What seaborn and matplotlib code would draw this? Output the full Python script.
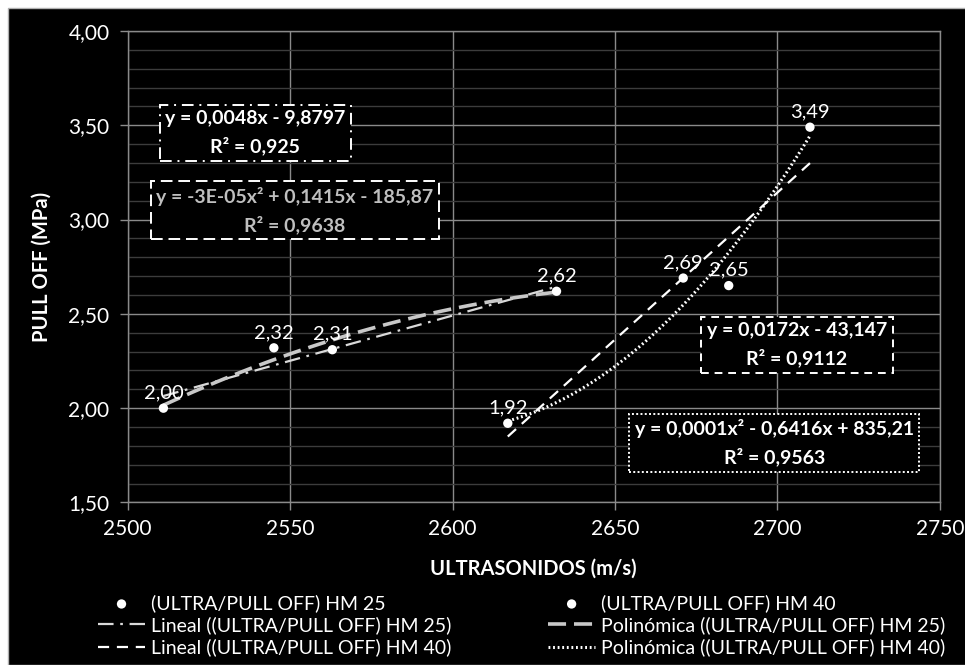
import numpy as np
import pandas as pd
import seaborn as sns
from matplotlib import pyplot as plt
from matplotlib.patches import Rectangle
from matplotlib.ticker import FuncFormatter, MultipleLocator

# (ULTRA/PULL OFF) HM 25
hm25_ultra = [2511, 2545, 2563, 2632]
hm25_pull = [2.00, 2.32, 2.31, 2.62]
# (ULTRA/PULL OFF) HM 40
hm40_ultra = [2617, 2671, 2685, 2710]
hm40_pull = [1.92, 2.69, 2.65, 3.49]

eq_lin25 = "y = 0,0048x - 9,8797\nR² = 0,925"
eq_poly25 = "y = -3E-05x² + 0,1415x - 185,87\nR² = 0,9638"
eq_lin40 = "y = 0,0172x - 43,147\nR² = 0,9112"
eq_poly40 = "y = 0,0001x² - 0,6416x + 835,21\nR² = 0,9563"

df25 = pd.DataFrame({"ultra": hm25_ultra, "pull": hm25_pull})
df40 = pd.DataFrame({"ultra": hm40_ultra, "pull": hm40_pull})

sns.set_style("dark")
plt.rcParams["font.family"] = ["Lato", "DejaVu Sans"]
plt.rcParams["text.color"] = "white"
plt.rcParams["axes.labelcolor"] = "white"
plt.rcParams["xtick.color"] = "#8c8c8c"
plt.rcParams["ytick.color"] = "#8c8c8c"
plt.rcParams["xtick.labelcolor"] = "white"
plt.rcParams["ytick.labelcolor"] = "white"

fig = plt.figure(figsize=(9.65, 6.65), dpi=100, facecolor="white")
fig.patches.append(Rectangle((8 / 965, 0), 1, 1 - 8 / 665, transform=fig.transFigure,
                             facecolor="black", edgecolor="#b0b0b0", lw=1, zorder=-5))
ax = fig.add_axes([0.1323, 0.2444, 0.8417, 0.7090])
ax.set_facecolor("black")

grey = "#d9d9d9"
sns.regplot(data=df25, x="ultra", y="pull", order=1, ci=None, scatter=False, ax=ax,
            label="Lineal ((ULTRA/PULL OFF) HM 25)",
            line_kws=dict(color=grey, lw=1.6, dashes=(7, 3, 1.2, 3)))
sns.regplot(data=df40, x="ultra", y="pull", order=1, ci=None, scatter=False, ax=ax,
            label="Lineal ((ULTRA/PULL OFF) HM 40)",
            line_kws=dict(color="white", lw=1.6, dashes=(5, 3.5)))
sns.regplot(data=df25, x="ultra", y="pull", order=2, ci=None, scatter=False, ax=ax,
            label="Polinómica ((ULTRA/PULL OFF) HM 25)",
            line_kws=dict(color="#c8c8c8", lw=2.6, dashes=(5, 2.2)))
sns.regplot(data=df40, x="ultra", y="pull", order=2, ci=None, scatter=False, ax=ax,
            label="Polinómica ((ULTRA/PULL OFF) HM 40)",
            line_kws=dict(color="white", lw=2.2, dashes=(0.6, 0.9)))
sns.scatterplot(data=df25, x="ultra", y="pull", ax=ax, color="white", s=45,
                edgecolor="none", label="(ULTRA/PULL OFF) HM 25", zorder=5)
sns.scatterplot(data=df40, x="ultra", y="pull", ax=ax, color="white", s=45,
                edgecolor="none", label="(ULTRA/PULL OFF) HM 40", zorder=5)

for df in (df25, df40):
    for xv, yv in zip(df["ultra"], df["pull"]):
        ax.annotate(f"{yv:.2f}".replace(".", ","), (xv, yv), xytext=(0, 5),
                    textcoords="offset points", ha="center", va="bottom",
                    fontsize=14.5, color="white")

ax.set_xlim(2500, 2750)
ax.set_ylim(1.5, 4.0)
ax.xaxis.set_major_locator(MultipleLocator(50))
ax.yaxis.set_major_locator(MultipleLocator(0.5))
ax.yaxis.set_minor_locator(MultipleLocator(0.1))
ax.yaxis.set_major_formatter(FuncFormatter(lambda v, _: f"{v:.2f}".replace(".", ",")))
ax.grid(True, which="major", color="#8a8a8a", lw=1)
ax.grid(True, which="minor", axis="y", color="#3c3c3c", lw=1)
ax.tick_params(axis="both", which="major", length=6, width=1, labelsize=15, direction="out",
               bottom=True, left=True)
ax.tick_params(axis="y", which="minor", length=0)
ax.tick_params(axis="x", pad=6)
ax.tick_params(axis="y", pad=7)
for s in ax.spines.values():
    s.set_color("#8a8a8a")
    s.set_linewidth(1)
ax.set_axisbelow(True)

ax.set_xlabel("ULTRASONIDOS (m/s)", fontsize=14.5, fontweight="bold", labelpad=14)
ax.set_ylabel("PULL OFF (MPa)", fontsize=14.5, fontweight="bold", labelpad=12)

boxes = [
    (eq_lin25, 0.157, 0.784, "white", (0, (6, 3, 1, 3))),
    (eq_poly25, 0.206, 0.620, "#bfbfbf", (0, (6, 3))),
    (eq_lin40, 0.824, 0.334, "white", (0, (4, 3))),
    (eq_poly40, 0.796, 0.126, "white", (0, (1, 1.2))),
]
for txt, bx, by, col, ls in boxes:
    ax.text(bx, by, txt, transform=ax.transAxes, ha="center", va="center",
            multialignment="center", fontsize=14, fontweight="bold", color=col,
            linespacing=1.6,
            bbox=dict(boxstyle="square,pad=0.28", facecolor="black", edgecolor="white",
                      linestyle=ls, lw=1.4), zorder=6)

handles, labels = ax.get_legend_handles_labels()
order = [labels.index(n) for n in (
    "(ULTRA/PULL OFF) HM 25", "Lineal ((ULTRA/PULL OFF) HM 25)",
    "Lineal ((ULTRA/PULL OFF) HM 40)", "(ULTRA/PULL OFF) HM 40",
    "Polinómica ((ULTRA/PULL OFF) HM 25)", "Polinómica ((ULTRA/PULL OFF) HM 40)")]
ax.legend([handles[i] for i in order], [labels[i] for i in order], ncol=2,
          loc="upper center", bbox_to_anchor=(0.485, -0.178), frameon=False,
          prop=dict(family="Lato", size=14), labelcolor="white", handlelength=2.4,
          handletextpad=0.3, columnspacing=5.0, labelspacing=0.22, borderaxespad=0)

fig.savefig("out.png", dpi=100, facecolor=fig.get_facecolor())
